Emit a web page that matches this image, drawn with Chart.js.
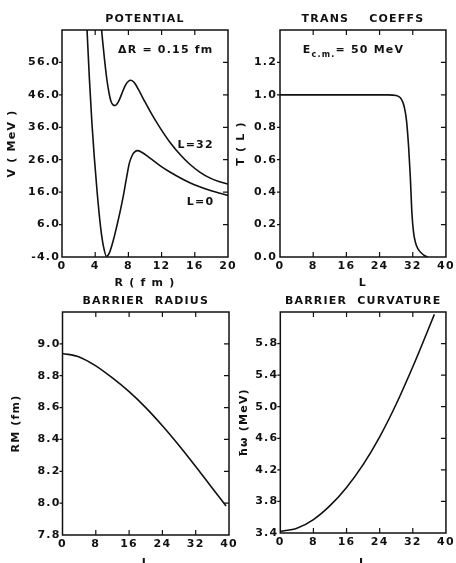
<!DOCTYPE html>
<html>
<head>
<meta charset="utf-8">
<script src="https://cdn.jsdelivr.net/npm/chart.js@4.4.0/dist/chart.umd.min.js"></script>
<style>
  html, body { margin: 0; padding: 0; background: #fff; width: 456px; height: 563px; overflow: hidden; }
  canvas { position: absolute; left: 0; top: 0; }
</style>
</head>
<body>
<canvas id="potential" width="456" height="580"></canvas>
<canvas id="trans" width="456" height="580"></canvas>
<canvas id="radius" width="456" height="580"></canvas>
<canvas id="curv" width="456" height="580"></canvas>
<script>
const ink = '#111';

// potential V(R), L = 0 and L = 32
const potR0  = [2.98, 3.3, 3.6, 3.9, 4.25, 4.66, 5.0, 5.35, 5.7, 6.2, 6.6, 7.0, 7.4, 7.8, 8.1, 8.45, 8.8, 9.1, 9.6, 10.6, 11.8, 13.0, 15.4, 17.8, 20];
const potV0  = [68, 51, 37.5, 26.5, 15.5, 5.0, -0.8, -3.8, -2.8, 1.3, 5.5, 10.0, 15.0, 20.8, 24.8, 27.3, 28.5, 28.8, 28.3, 26.5, 24.2, 22.2, 18.9, 16.6, 15.0];
const potR32 = [4.7, 4.9, 5.1, 5.38, 5.65, 5.9, 6.15, 6.4, 6.8, 7.2, 7.6, 8.0, 8.3, 8.7, 9.3, 10.0, 10.6, 11.8, 13.0, 14.2, 15.4, 16.6, 17.8, 18.9, 20];
const potV32 = [68, 62.5, 57.5, 51.2, 46.8, 44.0, 42.9, 42.7, 43.9, 46.3, 48.8, 50.2, 50.5, 49.8, 47.2, 43.8, 41.0, 35.9, 31.4, 27.7, 24.6, 22.2, 20.4, 19.3, 18.5];
const potRTicks = [0, 4, 8, 12, 16, 20];
const potVTicks = [-4, 6, 16, 26, 36, 46, 56];

// transmission coefficients T(L)
const transL = [0, 26, 28, 29, 29.6, 30, 30.5, 31, 31.4, 31.8, 32.2, 32.7, 33.3, 34, 34.8, 35.6];
const transT = [1, 1, 0.996, 0.982, 0.955, 0.92, 0.84, 0.68, 0.5, 0.27, 0.15, 0.085, 0.048, 0.026, 0.009, 0];
const transLTicks = [0, 8, 16, 24, 32, 40];
const transTTicks = [0, 0.2, 0.4, 0.6, 0.8, 1.0, 1.2];

// barrier radius RM(L)
const radL  = [0, 4, 8, 12, 16, 20, 24, 28, 32, 36, 39.3];
const radRM = [8.94, 8.918, 8.862, 8.786, 8.7, 8.6, 8.486, 8.362, 8.23, 8.094, 7.982];
const radLTicks  = [0, 8, 16, 24, 32, 40];
const radRMTicks = [7.8, 8.0, 8.2, 8.4, 8.6, 8.8, 9.0];

// barrier curvature hw(L)
const curvL  = [0, 4, 8, 12, 16, 20, 24, 28, 32, 34, 37.2];
const curvHw = [3.42, 3.46, 3.57, 3.746, 3.978, 4.266, 4.618, 5.034, 5.506, 5.756, 6.17];
const curvLTicks  = [0, 8, 16, 24, 32, 40];
const curvHwTicks = [3.4, 3.8, 4.2, 4.6, 5.0, 5.4, 5.8];

const face = '"DejaVu Sans", sans-serif';
const font = { family: face, size: 11, weight: 'bold', lineHeight: 1.2 };

// boxed frame, ticks inward on top/bottom/right, short outward ticks on the left
const framePlugin = {
  id: 'frame',
  beforeDraw(chart) {
    chart.ctx.letterSpacing = '1.2px';
  },
  afterDraw(chart) {
    const { ctx, chartArea: { left, right, top, bottom }, scales: { x, y } } = chart;
    ctx.save();
    ctx.strokeStyle = ink;
    ctx.lineWidth = 1.5;
    ctx.strokeRect(left, top, right - left, bottom - top);
    ctx.lineWidth = 1.2;
    ctx.beginPath();
    x.ticks.forEach(t => {
      const px = x.getPixelForValue(t.value);
      if (px <= left + 1 || px >= right - 1) return;
      ctx.moveTo(px, bottom); ctx.lineTo(px, bottom - 5);
      ctx.moveTo(px, top); ctx.lineTo(px, top + 5);
    });
    y.ticks.forEach(t => {
      const py = y.getPixelForValue(t.value);
      if (py <= top + 1 || py >= bottom - 1) return;
      ctx.moveTo(right, py); ctx.lineTo(right - 5, py);
      ctx.moveTo(left, py); ctx.lineTo(left - 3, py);
    });
    ctx.stroke();
    ctx.restore();
  }
};

// free text inside the plots, placed at data coordinates
function notesPlugin(notes) {
  return {
    id: 'notes',
    afterDatasetsDraw(chart) {
      const { ctx, scales: { x, y } } = chart;
      ctx.save();
      ctx.fillStyle = ink;
      ctx.textBaseline = 'alphabetic';
      ctx.textAlign = 'left';
      notes.forEach(n => {
        const widths = n.parts.map(p => {
          ctx.font = `bold ${p.sub ? 8 : 11}px ${face}`;
          return ctx.measureText(p.t).width;
        });
        const total = widths.reduce((a, b) => a + b, 0);
        let px = x.getPixelForValue(n.x);
        if (n.align === 'center') px -= total / 2;
        const py = y.getPixelForValue(n.y);
        n.parts.forEach((p, i) => {
          ctx.font = `bold ${p.sub ? 8 : 11}px ${face}`;
          ctx.fillText(p.t, px, py + (p.sub ? 4 : 0));
          px += widths[i];
        });
      });
      ctx.restore();
    }
  };
}

function panel(id, o) {
  return new Chart(document.getElementById(id), {
    type: 'line',
    data: {
      datasets: o.series.map(s => ({
        data: s.x.map((v, i) => ({ x: v, y: s.y[i] })),
        borderColor: ink,
        borderWidth: 1.6,
        pointRadius: 0,
        fill: false,
        cubicInterpolationMode: 'monotone'
      }))
    },
    options: {
      responsive: false,
      animation: false,
      events: [],
      layout: { padding: o.pad },
      plugins: {
        legend: { display: false },
        tooltip: { enabled: false },
        title: { display: true, text: o.title, fullSize: false, color: ink, font: font, padding: o.titlePad }
      },
      scales: {
        x: {
          type: 'linear', min: o.xMin, max: o.xMax,
          grid: { display: false, drawTicks: false },
          border: { display: false },
          afterBuildTicks: s => { s.ticks = o.xTicks.map(v => ({ value: v })); },
          afterFit: s => { s.height = o.xH; },
          ticks: { color: ink, font: font, padding: 2.4, maxRotation: 0, autoSkip: false, callback: v => String(v) },
          title: { display: true, text: o.xTitle, color: ink, font: font, padding: { top: 0, bottom: o.xTitlePad } }
        },
        y: {
          type: 'linear', min: o.yMin, max: o.yMax,
          grid: { display: false, drawTicks: false },
          border: { display: false },
          afterBuildTicks: s => { s.ticks = o.yTicks.map(v => ({ value: v })); },
          afterFit: s => { s.width = o.yW; },
          ticks: { color: ink, font: font, padding: o.yTickPad, autoSkip: false, callback: v => v.toFixed(1) },
          title: { display: true, text: o.yTitle, color: ink, font: font, padding: { top: o.yTitlePad, bottom: 0 } }
        }
      }
    },
    plugins: [framePlugin, notesPlugin(o.notes || [])]
  });
}

panel('potential', {
  title: 'POTENTIAL', titlePad: { top: 12.4, bottom: 4.4 },
  pad: { left: 0, top: 0, right: 228, bottom: 289 },
  series: [{ x: potR0, y: potV0 }, { x: potR32, y: potV32 }],
  xMin: 0, xMax: 20, xTicks: potRTicks, xTitle: 'R ( f m )', xH: 34, xTitlePad: 1.4,
  yMin: -4, yMax: 66, yTicks: potVTicks, yTitle: 'V ( MeV )', yW: 62, yTickPad: 2, yTitlePad: 5.9,
  notes: [
    { x: 12.5, y: 58.9, align: 'center', parts: [{ t: 'ΔR = 0.15 fm' }] },
    { x: 16.1, y: 29.5, align: 'center', parts: [{ t: 'L=32' }] },
    { x: 16.7, y: 12.0, align: 'center', parts: [{ t: 'L=0' }] }
  ]
});

panel('trans', {
  title: 'TRANS    COEFFS', titlePad: { top: 12.4, bottom: 4.4 },
  pad: { left: 230, top: 0, right: 9.5, bottom: 289 },
  series: [{ x: transL, y: transT }],
  xMin: 0, xMax: 40, xTicks: transLTicks, xTitle: 'L', xH: 34, xTitlePad: 1.4,
  yMin: 0, yMax: 1.4, yTicks: transTTicks, yTitle: 'T ( L )', yW: 50, yTickPad: 3, yTitlePad: 4.9,
  notes: [
    { x: 5.5, y: 1.26, parts: [{ t: 'E' }, { t: 'c.m.', sub: true }, { t: '= 50 MeV' }] }
  ]
});

panel('radius', {
  title: 'BARRIER  RADIUS', titlePad: { top: 4.4, bottom: 4.4 },
  pad: { left: 0, top: 290, right: 227, bottom: 5 },
  series: [{ x: radL, y: radRM }],
  xMin: 0, xMax: 40, xTicks: radLTicks, xTitle: 'L', xH: 40, xTitlePad: 5.4,
  yMin: 7.8, yMax: 9.2, yTicks: radRMTicks, yTitle: 'RM (fm)', yW: 62.5, yTickPad: 2, yTitlePad: 9.2
});

panel('curv', {
  title: 'BARRIER  CURVATURE', titlePad: { top: 4.4, bottom: 4.4 },
  pad: { left: 230, top: 290, right: 9, bottom: 5 },
  series: [{ x: curvL, y: curvHw }],
  xMin: 0, xMax: 40, xTicks: curvLTicks, xTitle: 'L', xH: 42, xTitlePad: 5.4,
  yMin: 3.4, yMax: 6.2, yTicks: curvHwTicks, yTitle: 'ħω (MeV)', yW: 50.3, yTickPad: 2, yTitlePad: 7.4
});
</script>
</body>
</html>
